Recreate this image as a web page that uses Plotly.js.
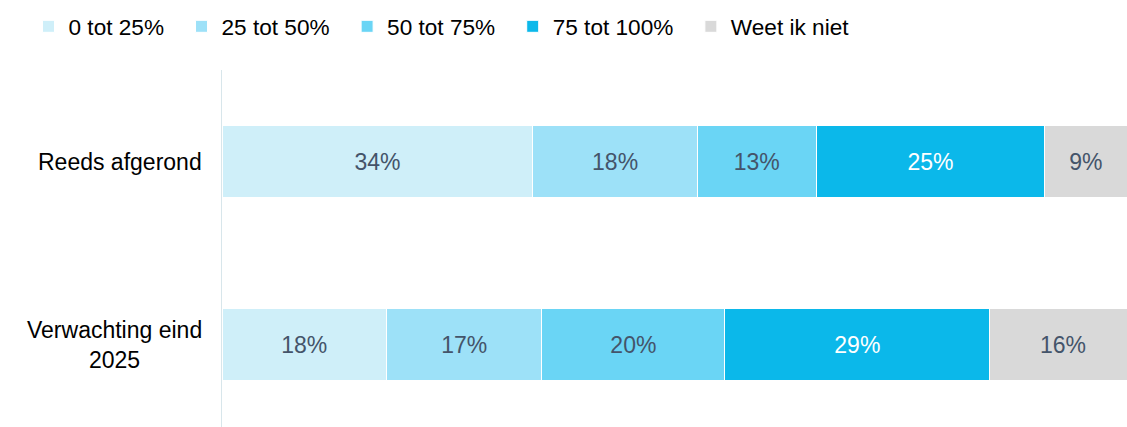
<!DOCTYPE html>
<html>
<head>
<meta charset="utf-8">
<script src="https://cdn.plot.ly/plotly-3.0.1.min.js"></script>
<style>html,body{margin:0;padding:0;background:#fff;}#chart{width:1127px;height:427px;}</style>
</head>
<body>
<div id="chart"></div>
<script>
const categories = ["Reeds afgerond", "Verwachting eind<br>2025"];
const seriesNames = ["0 tot 25%", "25 tot 50%", "50 tot 75%", "75 tot 100%", "Weet ik niet"];
const s0_25 = [34, 18];
const s25_50 = [18, 17];
const s50_75 = [13, 20];
const s75_100 = [25, 29];
const sWeetNiet = [9, 16];
const seriesValues = [s0_25, s25_50, s50_75, s75_100, sWeetNiet];
const colors = ["#CFEFF9", "#9DE1F8", "#6AD5F5", "#0BB8EA", "#D9D9D9"];
const textColors = ["#44546A", "#44546A", "#44546A", "#FFFFFF", "#44546A"];

const FONT = "Arial, 'Liberation Sans', sans-serif";
const FS = 23;

const traces = seriesValues.map((vals, i) => ({
  type: "bar",
  orientation: "h",
  name: seriesNames[i] + "\u00a0\u00a0",
  y: categories.map((c, k) => k),
  x: vals,
  width: 0.393,
  marker: {color: colors[i], line: {color: "#FFFFFF", width: 1}},
  text: vals.map(v => v + "%"),
  textposition: "inside",
  insidetextanchor: "middle",
  constraintext: "none",
  textangle: 0,
  textfont: {family: FONT, size: FS, color: textColors[i]},
  hoverinfo: "skip"
}));

const annotations = categories.map((c, k) => ({
  xref: "paper", yref: "y",
  x: 0, y: k,
  xanchor: "right", yanchor: "middle",
  xshift: -18,
  text: c,
  align: "center",
  showarrow: false,
  font: {family: FONT, size: FS, color: "#000000"}
}));

const layout = {
  width: 1127, height: 427,
  margin: {l: 222, r: 0, t: 70, b: 0, pad: 0},
  barmode: "stack",
  paper_bgcolor: "#FFFFFF",
  plot_bgcolor: "#FFFFFF",
  font: {family: FONT, size: FS, color: "#000000"},
  showlegend: true,
  legend: {
    orientation: "h",
    xref: "container", yref: "container",
    x: 0.0253, y: 0.988,
    xanchor: "left", yanchor: "top",
    font: {family: FONT, size: 22.6, color: "#000000"},
    traceorder: "normal",
    bgcolor: "rgba(0,0,0,0)"
  },
  xaxis: {range: [0, 99], visible: false, fixedrange: true},
  yaxis: {
    range: [1.45, -0.5],
    showticklabels: false,
    showgrid: false,
    zeroline: false,
    showline: true,
    linecolor: "#D8E6EB",
    linewidth: 1.5,
    ticks: "",
    fixedrange: true
  },
  annotations: annotations
};

Plotly.newPlot("chart", traces, layout, {displayModeBar: false, staticPlot: true});
</script>
</body>
</html>
